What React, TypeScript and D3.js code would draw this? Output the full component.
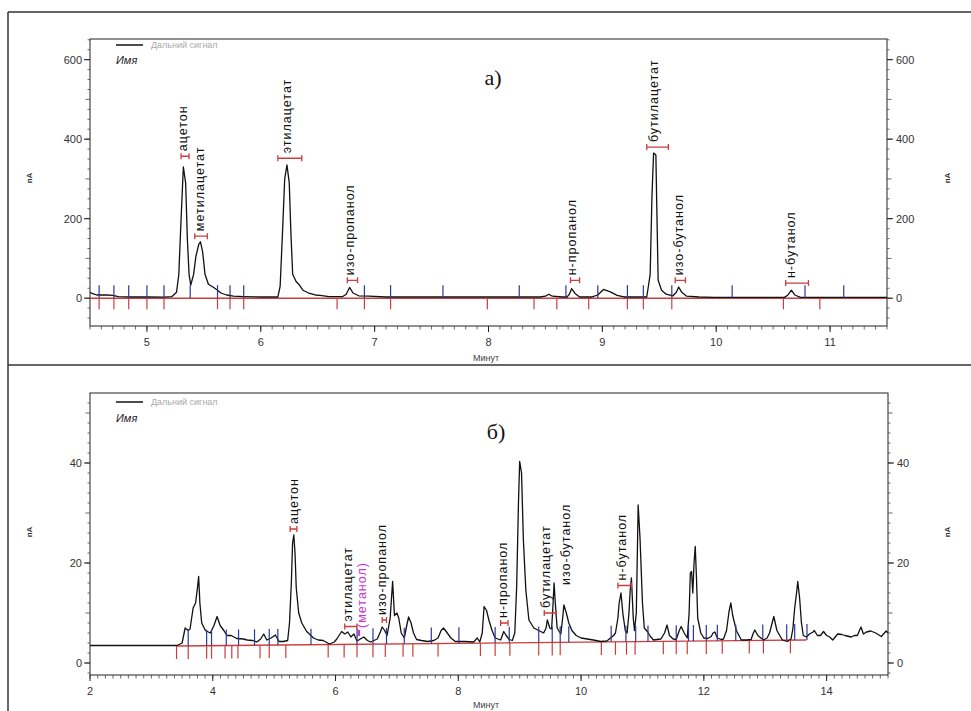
import React from 'react';
import * as d3 from 'd3';

// ---------- DATA ----------
// Panel a) chromatogram: [time, signal pA]
const topChromatogram: [number, number][] = [
  [4.50, 14], [4.53, 11], [4.56, 8], [4.65, 8], [4.70, 7], [4.75, 4], [4.85, 3], [5.00, 3], [5.15, 2.5],
  [5.22, 4], [5.26, 15], [5.28, 60], [5.30, 200], [5.32, 330], [5.34, 290], [5.355, 150], [5.37, 60],
  [5.385, 33], [5.41, 60], [5.43, 105], [5.455, 135], [5.47, 142], [5.49, 115], [5.51, 60], [5.54, 35],
  [5.58, 28], [5.62, 20], [5.65, 13], [5.70, 8], [5.76, 5], [5.85, 4], [6.00, 3], [6.15, 3], [6.17, 30],
  [6.19, 160], [6.21, 300], [6.23, 335], [6.25, 290], [6.265, 160], [6.28, 60], [6.31, 42], [6.34, 33],
  [6.37, 20], [6.42, 13], [6.48, 8], [6.52, 7], [6.60, 4], [6.72, 4], [6.75, 10], [6.78, 27], [6.81, 13],
  [6.86, 6], [6.95, 5], [7.10, 3], [7.45, 3], [7.80, 3], [8.10, 3], [8.30, 3], [8.45, 3], [8.50, 5],
  [8.53, 10], [8.56, 5], [8.65, 3], [8.69, 3], [8.71, 10], [8.73, 24], [8.76, 12], [8.80, 3], [8.91, 3],
  [8.96, 8], [9.01, 22], [9.07, 16], [9.13, 7], [9.19, 3], [9.39, 3], [9.42, 60], [9.435, 250], [9.45, 365],
  [9.47, 360], [9.48, 200], [9.49, 45], [9.52, 20], [9.56, 10], [9.62, 6], [9.65, 15], [9.67, 28], [9.70, 14],
  [9.74, 5], [9.85, 3], [9.98, 2], [10.60, 2], [10.63, 8], [10.66, 20], [10.69, 8], [10.74, 2], [10.94, 2],
  [11.20, 2], [11.50, 2]
];

// Panel б) chromatogram: [time, signal pA]
const bottomChromatogram: [number, number][] = [
  [2.0, 3.5], [3.42, 3.5], [3.5, 4.0], [3.55, 7.0], [3.6, 6.5], [3.63, 6.8], [3.68, 11], [3.72, 12], [3.75, 15],
  [3.77, 17.3], [3.79, 12], [3.82, 8], [3.88, 6.5], [3.96, 6], [4.02, 7.5], [4.07, 9.3], [4.12, 7.5], [4.18, 6.5],
  [4.23, 5.5], [4.3, 5.5], [4.39, 4.9], [4.5, 4.8], [4.56, 4.6], [4.65, 4.5], [4.72, 4.2], [4.78, 4.8], [4.83, 5.8],
  [4.88, 4.6], [4.95, 5], [5.02, 5.6], [5.08, 4.3], [5.15, 4.3], [5.22, 4.5], [5.25, 8], [5.28, 16], [5.3, 24],
  [5.32, 25.6], [5.34, 22], [5.36, 15], [5.4, 10], [5.45, 8], [5.53, 6.3], [5.6, 5.5], [5.64, 5], [5.72, 4.6],
  [5.8, 4.5], [5.9, 3.8], [5.98, 4.2], [6.02, 4.8], [6.1, 6.3], [6.15, 5.8], [6.2, 6.2], [6.25, 5.2], [6.3, 5.8],
  [6.35, 4.4], [6.46, 5.2], [6.52, 4.5], [6.57, 4.2], [6.68, 4.8], [6.73, 6.2], [6.76, 7.2], [6.8, 6.5], [6.84, 5.5],
  [6.89, 9], [6.93, 16.3], [6.96, 9.5], [7.0, 10], [7.03, 9], [7.07, 6], [7.12, 5], [7.16, 7.5], [7.19, 9.2],
  [7.23, 8], [7.27, 6], [7.32, 4.7], [7.4, 4.5], [7.5, 4.3], [7.6, 4.5], [7.67, 5], [7.72, 6.5], [7.76, 7],
  [7.82, 6], [7.88, 5], [7.95, 4.3], [8.1, 4.3], [8.25, 4.2], [8.31, 5], [8.35, 4.2], [8.39, 6], [8.42, 11.3],
  [8.46, 10.5], [8.5, 8.5], [8.55, 6.5], [8.6, 5], [8.69, 4.6], [8.74, 6.3], [8.78, 5.5], [8.83, 4.7], [8.88, 4.5],
  [8.92, 6], [8.95, 15], [8.98, 32], [9.0, 40.3], [9.03, 38], [9.06, 24.6], [9.1, 14.6], [9.15, 8.6], [9.23, 7],
  [9.31, 6.5], [9.39, 6], [9.43, 7], [9.45, 8.6], [9.49, 7], [9.52, 6.8], [9.54, 11], [9.56, 16], [9.58, 12],
  [9.61, 7], [9.67, 5.8], [9.7, 9], [9.72, 11.6], [9.76, 10], [9.8, 8], [9.85, 6.5], [9.92, 5.5], [10.0, 5],
  [10.1, 4.8], [10.2, 4.6], [10.32, 4.3], [10.42, 4.4], [10.48, 5], [10.53, 5.5], [10.56, 6], [10.6, 9],
  [10.62, 12], [10.65, 14], [10.68, 10], [10.72, 6.5], [10.75, 6], [10.78, 10], [10.8, 14.5], [10.82, 17],
  [10.85, 9], [10.87, 6.5], [10.9, 10], [10.93, 31.6], [10.96, 25], [11.0, 12], [11.03, 7], [11.08, 6.3],
  [11.13, 5.3], [11.18, 4.6], [11.3, 4.8], [11.36, 6], [11.4, 7.6], [11.44, 5.5], [11.5, 4.8], [11.55, 4.7],
  [11.6, 6.5], [11.63, 7.3], [11.68, 6], [11.73, 5], [11.76, 10], [11.78, 18], [11.8, 18.3], [11.82, 14],
  [11.84, 20], [11.86, 23.3], [11.88, 17], [11.9, 9], [11.95, 6], [12.0, 5], [12.06, 4.9], [12.12, 5.3],
  [12.15, 6], [12.18, 6.2], [12.22, 5], [12.28, 4.7], [12.32, 4.8], [12.37, 6.5], [12.41, 10.3], [12.44, 12],
  [12.47, 9.5], [12.53, 6.5], [12.61, 4.6], [12.7, 4.6], [12.77, 4.7], [12.8, 5.8], [12.83, 6.6], [12.88, 5.5],
  [12.97, 4.6], [13.03, 5], [13.07, 6], [13.14, 9.3], [13.19, 6.5], [13.28, 4.6], [13.36, 4.3], [13.42, 4.8],
  [13.45, 6.8], [13.48, 11], [13.51, 14], [13.53, 16.3], [13.56, 13], [13.59, 8], [13.62, 5.5], [13.67, 5.2],
  [13.72, 5.8], [13.78, 6.2], [13.8, 6.5], [13.85, 5.5], [13.9, 5.5], [13.95, 6.3], [14.0, 5.5], [14.05, 5.2],
  [14.1, 4.6], [14.18, 5.8], [14.25, 5.7], [14.3, 5.5], [14.4, 5.2], [14.45, 5.5], [14.5, 5.5], [14.56, 7.2],
  [14.6, 5.8], [14.65, 6.2], [14.72, 6.4], [14.8, 6], [14.89, 5.3], [14.97, 6.4], [15.0, 6]
];

// integration baselines
const topBaseline: [number, number][] = [[4.5, 0], [11.5, 0]];
const bottomBaseline: [number, number][] = [[3.42, 3.4], [13.67, 4.6]];

// integration event marks (times, min)
const topBlueMarks = [4.58, 4.71, 4.84, 5.0, 5.15, 5.38, 5.62, 5.73, 5.85, 6.91, 7.14, 7.6, 8.27, 8.68, 8.96, 9.22, 9.36, 9.61, 10.14, 10.78, 11.12];
const topRedMarks = [4.58, 4.71, 4.84, 5.0, 5.15, 5.62, 5.73, 5.85, 6.67, 6.91, 7.14, 7.99, 8.40, 8.60, 8.88, 9.22, 9.36, 9.61, 10.59, 10.91];
const bottomBlueMarks = [3.6, 3.9, 3.98, 4.22, 4.42, 4.68, 4.92, 5.06, 5.6, 6.35, 6.61, 6.83, 7.12, 7.56, 8.01, 8.6, 8.83, 9.31, 9.53, 9.66, 9.8, 10.49, 10.73, 10.89, 11.09, 11.55, 11.75, 11.83, 12.04, 12.22, 12.52, 12.96, 13.35, 13.48, 13.68];
const bottomRedMarks = [3.41, 3.6, 3.9, 3.98, 4.2, 4.31, 4.41, 4.77, 4.92, 5.19, 5.88, 6.14, 6.35, 6.61, 6.81, 7.1, 7.26, 7.67, 8.36, 8.6, 8.84, 9.31, 9.53, 9.66, 10.33, 10.56, 10.74, 10.88, 11.34, 11.55, 11.73, 12.04, 12.3, 12.74, 12.97, 13.41];

// peak labels
const topLabelNames = ['ацетон', 'метилацетат', 'этилацетат', 'изо-пропанол', 'н-пропанол', 'бутилацетат', 'изо-бутанол', 'н-бутанол'];
const topLabelTimes = [5.32, 5.47, 6.23, 6.78, 8.73, 9.45, 9.67, 10.66];
const topWindowFrom = [5.30, 5.42, 6.15, 6.76, 8.72, 9.39, 9.64, 10.61];
const topWindowTo = [5.37, 5.53, 6.36, 6.85, 8.80, 9.58, 9.73, 10.81];
const topWindowLevel = [357, 156, 352, 45, 45, 380, 45, 38];

const bottomLabelNames = ['ацетон', 'этилацетат', '(метанол)', 'изо-пропанол', 'н-пропанол', 'бутилацетат', 'изо-бутанол', 'н-бутанол'];
const bottomLabelTimes = [5.32, 6.20, 6.43, 6.76, 8.72, 9.43, 9.76, 10.66];
const bottomWindowFrom: (number | null)[] = [5.26, 6.15, 6.37, 6.76, 8.69, 9.40, null, 10.60];
const bottomWindowTo: (number | null)[] = [5.37, 6.35, 6.39, 6.83, 8.81, 9.59, null, 10.82];
const bottomWindowLevel = [26.8, 7.3, 6, 8.6, 8, 10, 14.6, 15.5];
const bottomLabelHighlight = [false, false, true, false, false, false, false, false];

const topXTicks = [5, 6, 7, 8, 9, 10, 11];
const topYTicks = [0, 200, 400, 600];
const bottomXTicks = [2, 4, 6, 8, 10, 12, 14];
const bottomYTicks = [0, 20, 40];

const legendSignal = 'Дальний сигнал';
const legendName = 'Имя';
const xTitle = 'Минут';
const yTitle = 'пА';

// ---------- STYLE ----------
const BLUE = '#2c3896';
const RED = '#cc3d3d';
const MAGENTA = '#c33cc9';
const SANS = 'Arial, "Liberation Sans", sans-serif';
const SERIF = '"Times New Roman", "Liberation Serif", serif';

type PanelProps = {
  xDomain: [number, number];
  yDomain: [number, number];
  left: number; right: number; top: number; bottom: number;
  data: [number, number][];
  baseline: [number, number][];
  blue: number[]; red: number[];
  blueLen: number; redLen: number;
  xTicks: number[]; xMinorStep: number;
  yTicks: number[]; yMinorStep: number; yMidStep: number;
  labels: string[]; labelTimes: number[];
  winFrom: (number | null)[]; winTo: (number | null)[]; winLevel: number[];
  highlight: boolean[];
  title: string; titleX: number; titleY: number;
  legendY: number; nameY: number;
  yTitleY: number; xTitleY: number;
  id: string;
};

function Panel(p: PanelProps) {
  const x = d3.scaleLinear().domain(p.xDomain).range([p.left, p.right]);
  const y = d3.scaleLinear().domain(p.yDomain).range([p.bottom, p.top]);
  const line = d3.line<[number, number]>().x(d => x(d[0])).y(d => y(d[1]));
  const baseAt = d3.scaleLinear().domain(p.baseline.map(d => d[0])).range(p.baseline.map(d => d[1])).clamp(true);

  const xMinor = d3.range(p.xDomain[0], p.xDomain[1] + 1e-6, p.xMinorStep);
  const yMinor = d3.range(Math.ceil(p.yDomain[0] / p.yMinorStep) * p.yMinorStep, p.yDomain[1], p.yMinorStep);
  const isMid = (v: number) => Math.abs(v / p.yMidStep - Math.round(v / p.yMidStep)) < 1e-6;

  return (
    <g>
      <defs>
        <clipPath id={`clip-${p.id}`}>
          <rect x={p.left} y={p.top} width={p.right - p.left} height={p.bottom - p.top} />
        </clipPath>
      </defs>
      {/* frame */}
      <rect x={p.left} y={p.top} width={p.right - p.left} height={p.bottom - p.top} fill="none" stroke="#222" strokeWidth={1} />
      {/* x ticks */}
      {xMinor.map((v, i) => (
        <line key={`xm${i}`} x1={x(v)} x2={x(v)} y1={p.bottom} y2={p.bottom + 3.5} stroke="#444" strokeWidth={0.8} />
      ))}
      {p.xTicks.map(v => (
        <g key={`xt${v}`}>
          <line x1={x(v)} x2={x(v)} y1={p.bottom} y2={p.bottom + 6} stroke="#222" strokeWidth={1} />
          <text x={x(v)} y={p.bottom + 20} textAnchor="middle" fontFamily={SANS} fontSize={11} fill="#333">{v}</text>
        </g>
      ))}
      {/* y ticks both sides */}
      {yMinor.map((v, i) => {
        const len = isMid(v) ? 4.5 : 2.5;
        return (
          <g key={`ym${i}`}>
            <line x1={p.left - len} x2={p.left} y1={y(v)} y2={y(v)} stroke="#444" strokeWidth={0.8} />
            <line x1={p.right} x2={p.right + len} y1={y(v)} y2={y(v)} stroke="#444" strokeWidth={0.8} />
          </g>
        );
      })}
      {p.yTicks.map(v => (
        <g key={`yt${v}`}>
          <line x1={p.left - 6} x2={p.left} y1={y(v)} y2={y(v)} stroke="#222" />
          <line x1={p.right} x2={p.right + 6} y1={y(v)} y2={y(v)} stroke="#222" />
          <text x={p.left - 8} y={y(v)} dy="0.35em" textAnchor="end" fontFamily={SANS} fontSize={11} fill="#333">{v}</text>
          <text x={p.right + 9} y={y(v)} dy="0.35em" textAnchor="start" fontFamily={SANS} fontSize={11} fill="#333">{v}</text>
        </g>
      ))}
      {/* axis titles */}
      <text transform={`translate(32,${p.yTitleY}) rotate(-90)`} textAnchor="middle" fontFamily={SANS} fontSize={8} fontWeight="bold" fill="#333">{yTitle}</text>
      <text transform={`translate(950,${p.yTitleY}) rotate(-90)`} textAnchor="middle" fontFamily={SANS} fontSize={8} fontWeight="bold" fill="#333">{yTitle}</text>
      <text x={473} y={p.xTitleY} fontFamily={SANS} fontSize={9} fill="#444">{xTitle}</text>

      <g clipPath={`url(#clip-${p.id})`}>
        {/* integration baseline */}
        <path d={line(p.baseline) || ''} fill="none" stroke={RED} strokeWidth={1.4} />
        {/* chromatogram */}
        <path d={line(p.data) || ''} fill="none" stroke="#111" strokeWidth={1.3} strokeLinejoin="round" />
        {/* event marks */}
        {p.blue.map((t, i) => (
          <line key={`b${i}`} x1={x(t)} x2={x(t)} y1={y(baseAt(t))} y2={y(baseAt(t)) - p.blueLen} stroke={BLUE} strokeWidth={1.2} />
        ))}
        {p.red.map((t, i) => (
          <line key={`r${i}`} x1={x(t)} x2={x(t)} y1={y(baseAt(t))} y2={y(baseAt(t)) + p.redLen} stroke={RED} strokeWidth={1.2} />
        ))}
      </g>

      {/* peak windows & labels */}
      {p.labels.map((name, i) => {
        const f = p.winFrom[i], t2 = p.winTo[i];
        const yy = y(p.winLevel[i]);
        const col = p.highlight[i] ? MAGENTA : RED;
        return (
          <g key={`lab${i}`}>
            {f !== null && t2 !== null && (
              <path d={`M${x(f)},${yy - 3}V${yy + 3}M${x(f)},${yy}H${x(t2)}M${x(t2)},${yy - 3}V${yy + 3}`} fill="none" stroke={col} strokeWidth={1.3} />
            )}
            <text transform={`translate(${x(p.labelTimes[i])},${yy - 5}) rotate(-90)`} textAnchor="start" dominantBaseline="central"
              fontFamily={SANS} fontSize={12.5} letterSpacing={1} fill={p.highlight[i] ? MAGENTA : '#111'}>{name}</text>
          </g>
        );
      })}

      {/* legend */}
      <line x1={116} x2={143} y1={p.legendY} y2={p.legendY} stroke="#111" strokeWidth={1.5} />
      <text x={151} y={p.legendY + 3} fontFamily={SANS} fontSize={9} fill="#aaa">{legendSignal}</text>
      <text x={116} y={p.nameY} fontFamily={SANS} fontSize={11} fontStyle="italic" fill="#222">{legendName}</text>

      {/* panel title */}
      <text x={p.titleX} y={p.titleY} textAnchor="middle" fontFamily={SERIF} fontSize={22} fill="#111">{p.title}</text>
    </g>
  );
}

export default function App() {
  return (
    <svg width={971} height={711} style={{ position: 'absolute', left: 0, top: 0, background: '#fff' }}>
      <rect x={0} y={0} width={971} height={711} fill="#fff" />
      {/* outer frame */}
      <line x1={8} x2={971} y1={12} y2={12} stroke="#333" strokeWidth={1.5} />
      <line x1={8} x2={8} y1={12} y2={711} stroke="#333" strokeWidth={1.5} />
      <line x1={8} x2={971} y1={365} y2={365} stroke="#333" strokeWidth={1.5} />

      <Panel
        id="a"
        xDomain={[4.5, 11.5]} yDomain={[-70, 652]}
        left={90} right={887} top={39} bottom={326}
        data={topChromatogram} baseline={topBaseline}
        blue={topBlueMarks} red={topRedMarks} blueLen={13} redLen={11}
        xTicks={topXTicks} xMinorStep={0.1}
        yTicks={topYTicks} yMinorStep={25} yMidStep={100}
        labels={topLabelNames} labelTimes={topLabelTimes}
        winFrom={topWindowFrom} winTo={topWindowTo} winLevel={topWindowLevel}
        highlight={topLabelNames.map(() => false)}
        title="а)" titleX={493} titleY={85}
        legendY={45} nameY={64}
        yTitleY={178} xTitleY={361}
      />
      <Panel
        id="b"
        xDomain={[2, 15]} yDomain={[-2.4, 54]}
        left={90} right={888} top={393} bottom={675}
        data={bottomChromatogram} baseline={bottomBaseline}
        blue={bottomBlueMarks} red={bottomRedMarks} blueLen={16} redLen={13}
        xTicks={bottomXTicks} xMinorStep={0.125}
        yTicks={bottomYTicks} yMinorStep={2} yMidStep={10}
        labels={bottomLabelNames} labelTimes={bottomLabelTimes}
        winFrom={bottomWindowFrom} winTo={bottomWindowTo} winLevel={bottomWindowLevel}
        highlight={bottomLabelHighlight}
        title="б)" titleX={496} titleY={439}
        legendY={402} nameY={422}
        yTitleY={532} xTitleY={708}
      />
    </svg>
  );
}
